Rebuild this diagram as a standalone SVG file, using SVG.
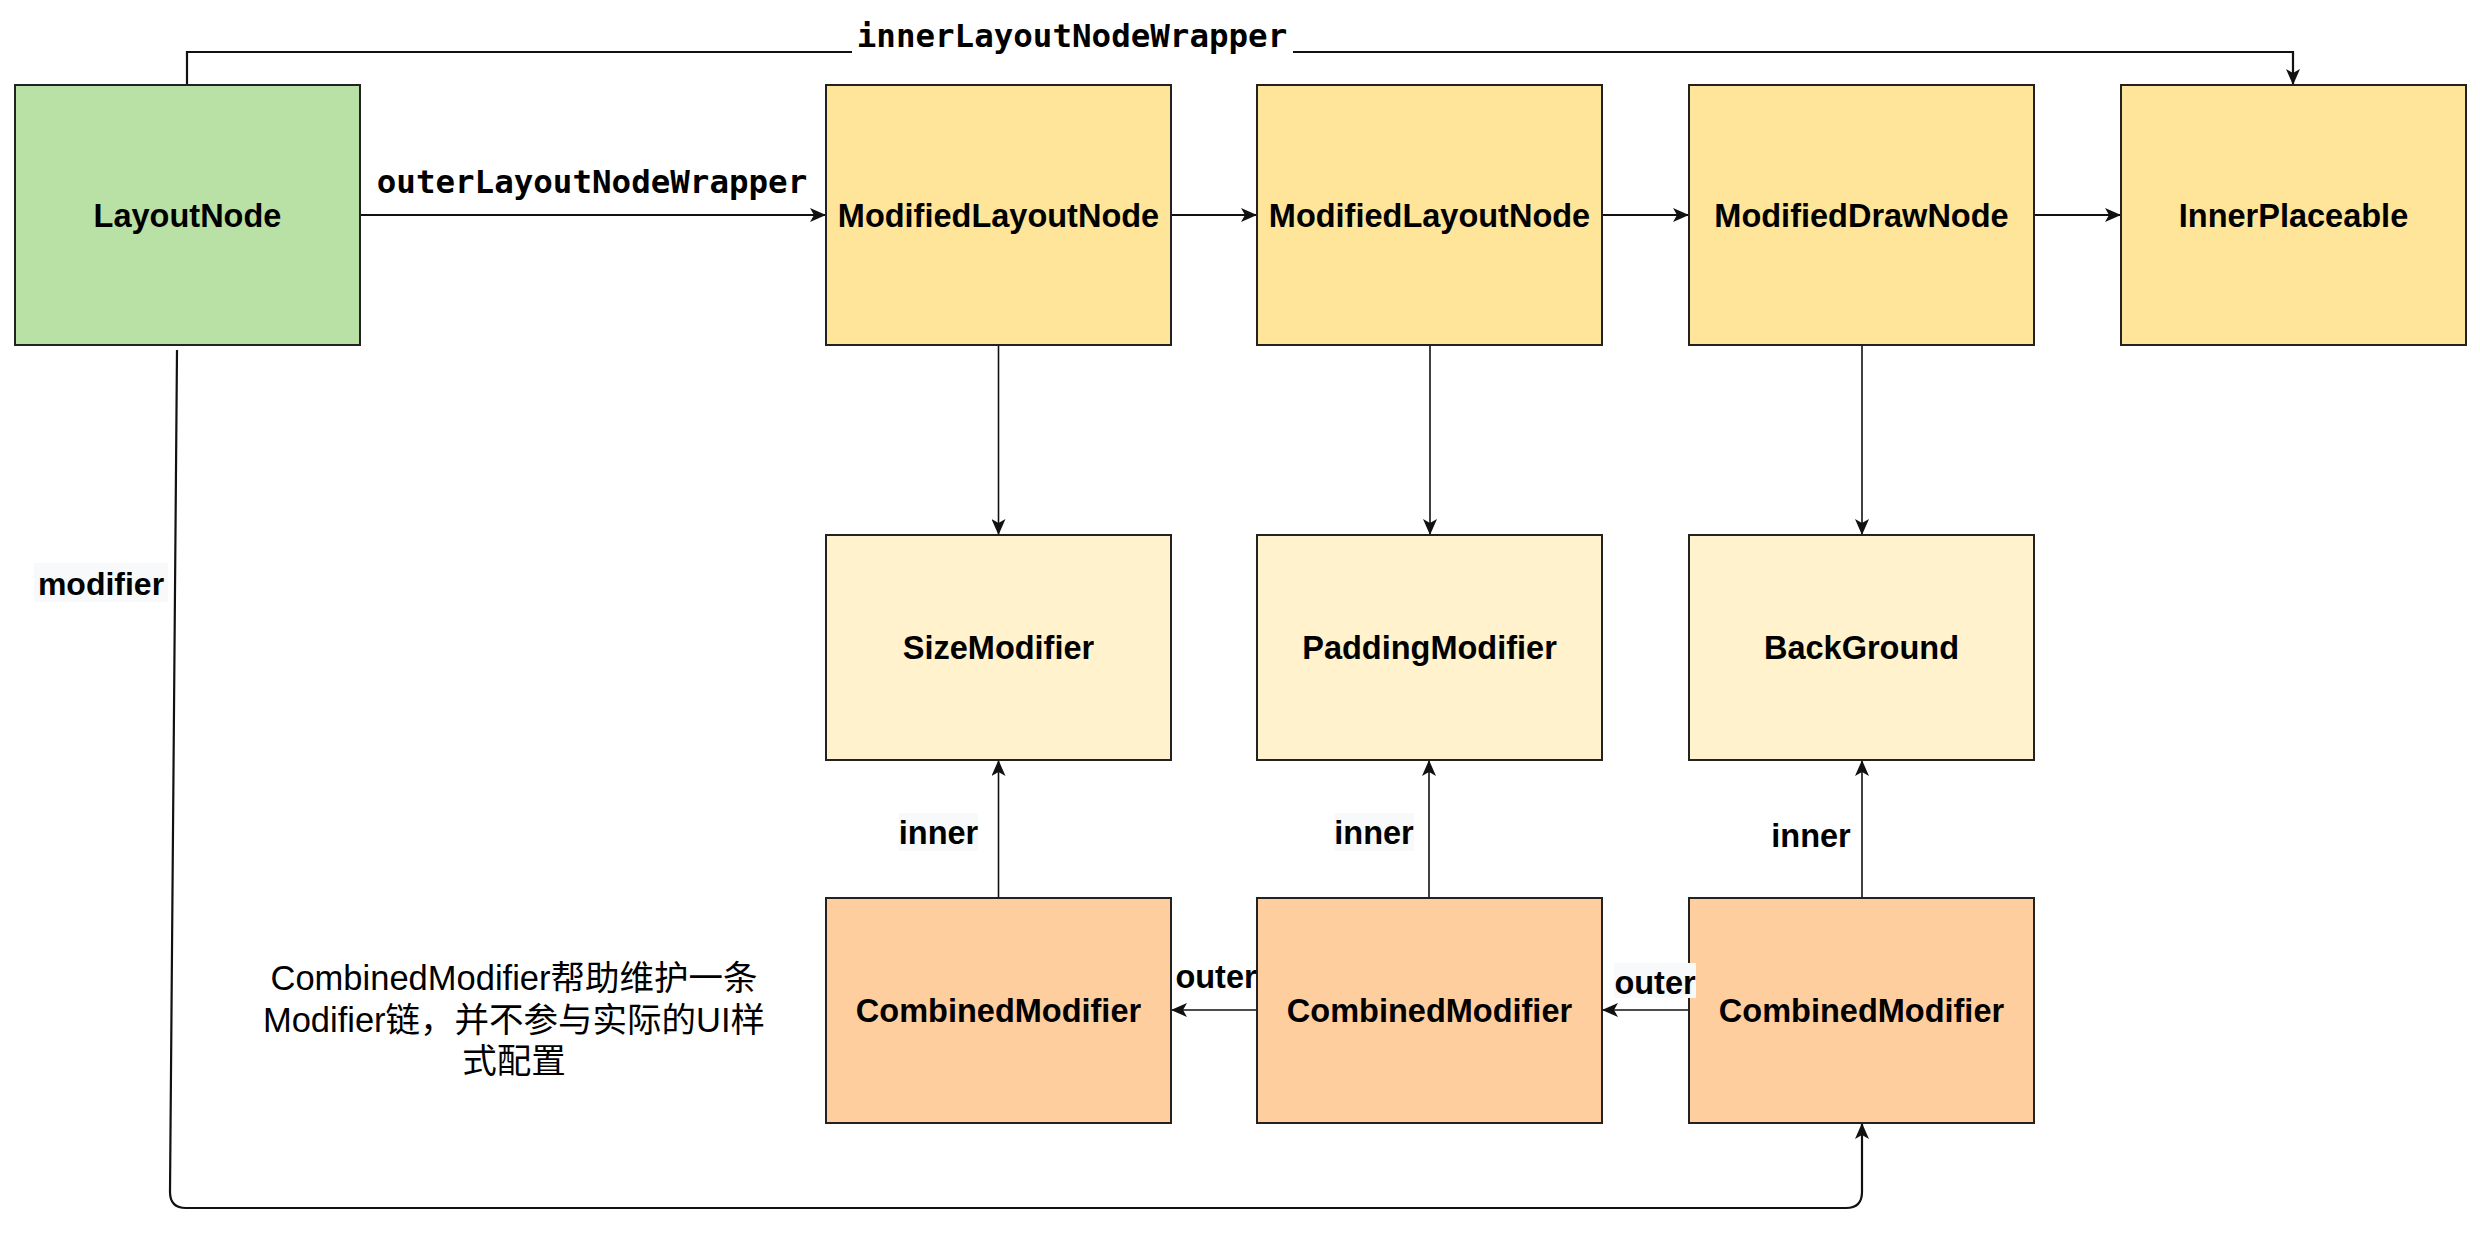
<svg xmlns="http://www.w3.org/2000/svg" width="2480" height="1240" viewBox="0 0 2480 1240">
<style>
.box{stroke:#222;stroke-width:2}
.green{fill:#b9e0a5}
.yel{fill:#ffe599}
.pale{fill:#fff2cc}
.orange{fill:#ffce9f}
.lbl{font-family:"Liberation Sans",Arial,sans-serif;font-weight:bold;font-size:32.5px;text-anchor:middle;fill:#000}
.mono{font-family:"DejaVu Sans Mono","Liberation Mono",monospace;font-weight:bold;font-size:32.5px;text-anchor:middle;fill:#000}
.note{font-family:"Liberation Sans","Noto Sans CJK SC",sans-serif;font-size:34.5px;text-anchor:middle;fill:#000}
.edge{fill:none;stroke:#111}
.thick{stroke-width:2.2}
.thin{stroke-width:1.6}
.lblbg{fill:#f8f9fa}
</style>
<defs>
<marker id="arr" viewBox="0 0 16 14" refX="16" refY="7" markerWidth="16" markerHeight="14" markerUnits="userSpaceOnUse" orient="auto">
<path d="M0,0 L16,7 L0,14 L4,7 z" fill="#111"/>
</marker>
</defs>
<rect width="2480" height="1240" fill="#ffffff"/>

<g id="connectors">
<path id="e-inner-wrapper" class="edge thick" d="M187,85 L187,52 L2293,52 L2293,85" marker-end="url(#arr)"/>
<path id="e-outer-wrapper" class="edge thick" d="M360,215 L826,215" marker-end="url(#arr)"/>
<path id="e-m1-m2" class="edge thick" d="M1171,215 L1257,215" marker-end="url(#arr)"/>
<path id="e-m2-d" class="edge thick" d="M1602,215 L1689,215" marker-end="url(#arr)"/>
<path id="e-d-ip" class="edge thick" d="M2034,215 L2121,215" marker-end="url(#arr)"/>
<path id="e-m1-size" class="edge thin" d="M998.5,345 L998.5,535" marker-end="url(#arr)"/>
<path id="e-m2-pad" class="edge thin" d="M1430,345 L1430,535" marker-end="url(#arr)"/>
<path id="e-d-bg" class="edge thin" d="M1862,345 L1862,535" marker-end="url(#arr)"/>
<path id="e-c1-size" class="edge thin" d="M998.5,898 L998.5,760" marker-end="url(#arr)"/>
<path id="e-c2-pad" class="edge thin" d="M1429,898 L1429,760" marker-end="url(#arr)"/>
<path id="e-c3-bg" class="edge thin" d="M1862,898 L1862,760" marker-end="url(#arr)"/>
<path id="e-c2-c1" class="edge thin" d="M1257,1010 L1171,1010" marker-end="url(#arr)"/>
<path id="e-c3-c2" class="edge thin" d="M1689,1010 L1602,1010" marker-end="url(#arr)"/>
<path id="e-modifier" class="edge thick" d="M177,350 L170,1192 Q170,1208 186,1208 L1846,1208 Q1862,1208 1862,1192 L1862,1123" marker-end="url(#arr)"/>
</g>

<g id="n-layoutnode">
<rect class="box green" x="15" y="85" width="345" height="260"/>
<text class="lbl" x="187.5" y="227">LayoutNode</text>
</g>
<g id="n-modlayout1">
<rect class="box yel" x="826" y="85" width="345" height="260"/>
<text class="lbl" x="998.5" y="227">ModifiedLayoutNode</text>
</g>
<g id="n-modlayout2">
<rect class="box yel" x="1257" y="85" width="345" height="260"/>
<text class="lbl" x="1429.5" y="227">ModifiedLayoutNode</text>
</g>
<g id="n-moddraw">
<rect class="box yel" x="1689" y="85" width="345" height="260"/>
<text class="lbl" x="1861.5" y="227">ModifiedDrawNode</text>
</g>
<g id="n-innerplaceable">
<rect class="box yel" x="2121" y="85" width="345" height="260"/>
<text class="lbl" x="2293.5" y="227">InnerPlaceable</text>
</g>

<g id="n-size">
<rect class="box pale" x="826" y="535" width="345" height="225"/>
<text class="lbl" x="998.5" y="659">SizeModifier</text>
</g>
<g id="n-padding">
<rect class="box pale" x="1257" y="535" width="345" height="225"/>
<text class="lbl" x="1429.5" y="659">PaddingModifier</text>
</g>
<g id="n-background">
<rect class="box pale" x="1689" y="535" width="345" height="225"/>
<text class="lbl" x="1861.5" y="659">BackGround</text>
</g>

<g id="n-combined1">
<rect class="box orange" x="826" y="898" width="345" height="225"/>
<text class="lbl" x="998.5" y="1022">CombinedModifier</text>
</g>
<g id="n-combined2">
<rect class="box orange" x="1257" y="898" width="345" height="225"/>
<text class="lbl" x="1429.5" y="1022">CombinedModifier</text>
</g>
<g id="n-combined3">
<rect class="box orange" x="1689" y="898" width="345" height="225"/>
<text class="lbl" x="1861.5" y="1022">CombinedModifier</text>
</g>

<g id="n-note">
<text class="note" x="514" y="990">CombinedModifier帮助维护一条</text>
<text class="note" x="514" y="1032">Modifier链，并不参与实际的UI样</text>
<text class="note" x="514" y="1073">式配置</text>
</g>

<g id="edge-labels">
<rect x="852" y="16" width="441" height="42" fill="#ffffff"/>
<text class="mono" x="1072" y="47">innerLayoutNodeWrapper</text>
<text class="mono" x="592" y="193">outerLayoutNodeWrapper</text>
<rect class="lblbg" x="34" y="563" width="134" height="39"/>
<text class="lbl" x="101" y="595" style="font-size:32px">modifier</text>
<rect class="lblbg" x="899" y="813" width="79" height="38"/>
<text class="lbl" x="938.5" y="844">inner</text>
<rect class="lblbg" x="1334" y="813" width="80" height="38"/>
<text class="lbl" x="1374" y="844">inner</text>
<text class="lbl" x="1811" y="847">inner</text>
<text class="lbl" x="1216" y="988">outer</text>
<rect class="lblbg" x="1614" y="963" width="82" height="35"/>
<text class="lbl" x="1655" y="994">outer</text>
</g>
</svg>
